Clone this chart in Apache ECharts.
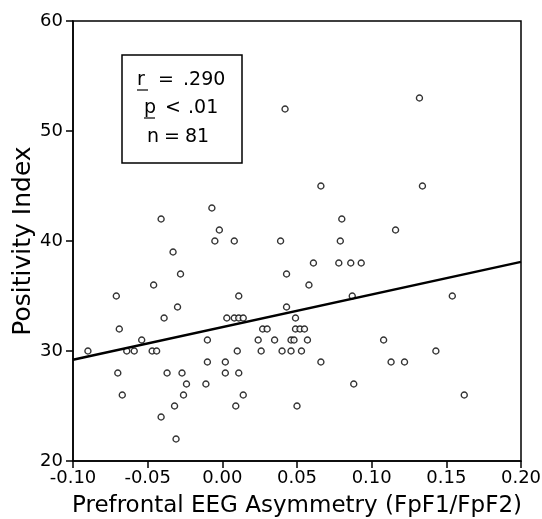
<!DOCTYPE html>
<html>
<head>
<meta charset="utf-8">
<script src="https://cdn.jsdelivr.net/npm/echarts@6/dist/echarts.min.js"></script>
<style>html,body{margin:0;padding:0;background:#fff;}#c{width:542px;height:519px;}</style>
</head>
<body>
<div id="c"></div>
<script>
var asymX = [-0.046,-0.071,-0.030,-0.039,0.003,-0.069,-0.054,-0.010,-0.090,-0.064,-0.059,-0.047,-0.044,-0.010,0.002,-0.070,-0.037,-0.027,0.002,-0.024,-0.011,-0.067,-0.026,-0.032,-0.041,-0.031,
  0.058,0.011,0.087,0.043,0.008,0.011,0.014,0.049,0.027,0.030,0.049,0.052,0.055,0.024,0.035,0.046,0.048,0.057,0.010,0.026,0.040,0.046,0.053,0.066,0.011,0.088,0.014,0.009,0.050,
  0.154,0.108,0.143,0.113,0.122,0.162,
  -0.007,-0.041,-0.002,-0.005,0.008,0.039,-0.033,-0.028,0.043,
  0.132,0.066,0.134,0.080,0.116,0.079,0.061,0.078,0.086,0.093,
  0.042];
var positivity = [36,35,34,33,33,32,31,31,30,30,30,30,30,29,29,28,28,28,28,27,27,26,26,25,24,22,
  36,35,35,34,33,33,33,33,32,32,32,32,32,31,31,31,31,31,30,30,30,30,30,29,28,27,26,25,25,
  35,31,30,29,29,26,
  43,42,41,40,40,40,39,37,37,
  53,45,45,42,41,40,38,38,38,38,
  52];
var fitX = [-0.10, 0.20];
var fitY = [29.2, 38.1];
var xTicks = {min: -0.10, max: 0.20, interval: 0.05};
var yTicks = {min: 20, max: 60, interval: 10};
var statLines = [
  [{t:'r', u:true}, {t:'='}, {t:'.290'}],
  [{t:'p', u:true}, {t:'<'}, {t:'.01'}],
  [{t:'n'}, {t:'='}, {t:'81'}]
];

var FONT = 'DejaVu Sans';
var chart = echarts.init(document.getElementById('c'), null, {renderer: 'canvas'});

var pts = asymX.map(function (x, i) { return [x, positivity[i]]; });
var fit = fitX.map(function (x, i) { return [x, fitY[i]]; });

// stat box graphic
var tokenX = [[137, 158, 183], [144, 165, 188], [147, 164, 185]];
var lineY = [80, 108, 137];
var g = [{
  type: 'rect', shape: {x: 122, y: 55, width: 120, height: 108},
  style: {fill: 'none', stroke: '#000', lineWidth: 1.5}, z: 10
}];
statLines.forEach(function (ln, li) {
  ln.forEach(function (tok, ti) {
    g.push({type: 'text', x: tokenX[li][ti], y: lineY[li],
      style: {text: tok.t, font: '19px "' + FONT + '"', fill: '#000', textAlign: 'left', textVerticalAlign: 'middle'}, z: 10});
    if (tok.u) {
      g.push({type: 'line', shape: {x1: tokenX[li][ti], y1: lineY[li] + 10, x2: tokenX[li][ti] + 11, y2: lineY[li] + 10},
        style: {stroke: '#000', lineWidth: 1.2}, z: 10});
    }
  });
});

chart.setOption({
  animation: false,
  backgroundColor: '#fff',
  grid: {left: 73, right: 21, top: 21, bottom: 58, outerBoundsMode: 'none', containLabel: false,
    show: true, borderColor: '#000', borderWidth: 1.5, backgroundColor: 'transparent'},
  xAxis: {
    type: 'value', min: xTicks.min, max: xTicks.max, interval: xTicks.interval,
    name: 'Prefrontal EEG Asymmetry (FpF1/FpF2)', nameLocation: 'middle', nameGap: 34, nameMoveOverlap: false,
    nameTextStyle: {fontFamily: FONT, fontSize: 23, color: '#000'},
    axisLine: {show: true, onZero: false, lineStyle: {color: '#000', width: 1.5}},
    axisTick: {show: true, inside: false, length: 7, lineStyle: {color: '#000', width: 1.5}},
    axisLabel: {margin: 8, fontFamily: FONT, fontSize: 18, color: '#000', showMinLabel: true, showMaxLabel: true,
      formatter: function (v) { return Math.abs(v) < 1e-9 ? '0.00' : v.toFixed(2); }},
    splitLine: {show: false}
  },
  yAxis: {
    type: 'value', min: yTicks.min, max: yTicks.max, interval: yTicks.interval,
    name: 'Positivity Index', nameLocation: 'middle', nameGap: 37, nameMoveOverlap: false,
    nameTextStyle: {fontFamily: FONT, fontSize: 25, color: '#000'},
    axisLine: {show: true, onZero: false, lineStyle: {color: '#000', width: 1.5}},
    axisTick: {show: true, inside: false, length: 7, lineStyle: {color: '#000', width: 1.5}},
    axisLabel: {margin: 10, fontFamily: FONT, fontSize: 18, color: '#000'},
    splitLine: {show: false}
  },
  series: [{
    type: 'scatter', data: pts, symbol: 'circle', symbolSize: 6,
    itemStyle: {color: '#fff', borderColor: '#000', borderWidth: 1.4}, z: 3
  }, {
    type: 'line', data: fit, symbol: 'none', lineStyle: {color: '#000', width: 2.5}, z: 4, silent: true
  }],
  graphic: g
});
</script>
</body>
</html>
